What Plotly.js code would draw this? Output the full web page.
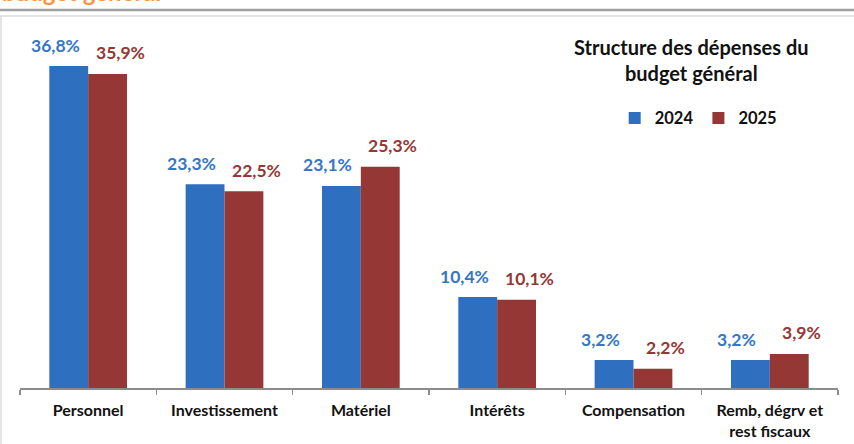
<!DOCTYPE html>
<html>
<head>
<meta charset="utf-8">
<script src="https://cdn.plot.ly/plotly-3.0.1.min.js"></script>
<style>html,body{margin:0;padding:0;background:#fff;}#chart{width:854px;height:444px;}</style>
</head>
<body>
<div id="chart"></div>
<script>
const categories = ["Personnel", "Investissement", "Matériel", "Intérêts", "Compensation", "Remb, dégrv et<br>rest fiscaux"];
const values2024 = [36.8, 23.3, 23.1, 10.4, 3.2, 3.2];
const values2025 = [35.9, 22.5, 25.3, 10.1, 2.2, 3.9];
const seriesNames = ["2024", "2025"];
const chartTitle = "Structure des dépenses du<br>budget général";
const headerText = "budget général";

const blue = "#2E6FC0";
const red = "#953735";
const blueText = "#3476C8";
const redText = "#953735";
const font = "Lato, 'Open Sans', sans-serif";

const fmt = v => v.toFixed(1).replace(".", ",") + "%";

const traces = [
  {type: "bar", name: seriesNames[0], x: categories, y: values2024, marker: {color: blue}, hoverinfo: "none"},
  {type: "bar", name: seriesNames[1], x: categories, y: values2025, marker: {color: red}, hoverinfo: "none"}
];

const annotations = [];
categories.forEach((c, i) => {
  annotations.push({x: c, y: values2024[i], xref: "x", yref: "y", text: fmt(values2024[i]), showarrow: false,
    yanchor: "middle", yshift: 21, xshift: -33, font: {family: font, size: 17.5, color: blueText, weight: "bold"}});
  annotations.push({x: c, y: values2025[i], xref: "x", yref: "y", text: fmt(values2025[i]), showarrow: false,
    yanchor: "middle", yshift: 21, xshift: 32, font: {family: font, size: 17.5, color: redText, weight: "bold"}});
});
annotations.push({xref: "paper", yref: "paper", x: 0.8215, y: 0.937, text: chartTitle, showarrow: false,
  xanchor: "center", yanchor: "middle", font: {family: font, size: 20, color: "#111", weight: "bold"}});
annotations.push({xref: "paper", yref: "paper", x: -0.0244, y: 1.0857, text: headerText, showarrow: false,
  xanchor: "left", yanchor: "bottom", font: {family: font, size: 24, color: "#F79646", weight: "bold"}});

const layout = {
  width: 854, height: 444,
  margin: {l: 20, r: 16, t: 38, b: 56},
  paper_bgcolor: "#fff", plot_bgcolor: "#fff",
  barmode: "group", bargap: 0.43, bargroupgap: 0,
  showlegend: true,
  legend: {orientation: "h", x: 0.727, y: 0.771, xanchor: "left", yanchor: "middle",
    font: {family: font, size: 16.5, color: "#111", weight: "bold"}, traceorder: "normal",
    itemwidth: 30, bgcolor: "rgba(0,0,0,0)"},
  xaxis: {type: "category", showline: true, linecolor: "#8c8c8c", linewidth: 1.5,
    ticks: "outside", tickson: "boundaries", ticklen: 5, tickcolor: "#8c8c8c", tickwidth: 1.5,
    ticklabelstandoff: 7,
    tickfont: {family: font, size: 16, color: "#111", weight: "bold"}, showgrid: false, fixedrange: true},
  yaxis: {range: [0, 40], visible: false, showgrid: false, zeroline: false, fixedrange: true},
  annotations: annotations,
  shapes: [
    {type: "line", xref: "paper", yref: "paper", x0: -0.1, x1: 1.1, y0: 1.08, y1: 1.08, line: {color: "#a0a0a0", width: 2.5}},
    {type: "line", xref: "paper", yref: "paper", x0: -0.1, x1: 1.1, y0: 1.0629, y1: 1.0629, line: {color: "#dcdcdc", width: 1.5}},
    {type: "line", xref: "paper", yref: "paper", x0: -0.0232, x1: -0.0232, y0: 1.0629, y1: -0.2, line: {color: "#dcdcdc", width: 1.5}}
  ]
};

Plotly.newPlot("chart", traces, layout, {displayModeBar: false, staticPlot: true});
</script>
</body>
</html>
